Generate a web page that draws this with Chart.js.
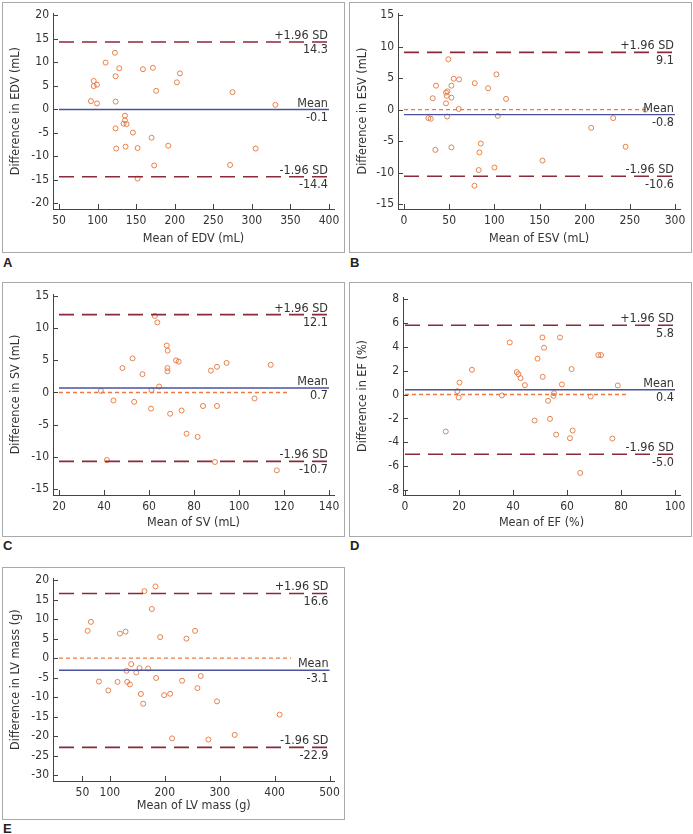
<!DOCTYPE html>
<html>
<head>
<meta charset="utf-8">
<script src="https://cdn.jsdelivr.net/npm/chart.js@4.4.1/dist/chart.umd.min.js"></script>
<style>
  body { margin: 0; background: #fff; width: 693px; height: 834px; position: relative; overflow: hidden; }
  .box { position: absolute; border: 1px solid #a9a9a9; box-sizing: border-box; }
  canvas { position: absolute; }
  .tag { position: absolute; font: bold 13px 'Liberation Sans Narrow', 'Liberation Sans', sans-serif; color: #222; }
</style>
</head>
<body>

<script>
// ---- data ----
var edvMean = [91.4, 95, 95, 99.2, 99.2, 110.4, 122.5, 123.4, 123.4, 128.1, 123.4, 124.2, 135.5, 135.5, 133.7, 137.6, 136.3, 145.8, 151.9, 151.9, 158.8, 171.7, 170, 173.4, 176, 191.6, 202.8, 206.7, 274.9, 271.8, 305, 330.5];
var edvDiff = [1.7, 6.0, 4.9, 5.2, 1.2, 9.9, 12.0, 7.0, 1.6, 8.7, -4.1, -8.4, -1.4, -2.4, -3.1, -3.2, -8.0, -5.0, -8.3, -14.8, 8.5, 8.8, -6.1, -12.0, 3.9, -7.8, 5.7, 7.6, 3.6, -11.9, -8.4, 0.9];

var esvMean = [27.0, 29.6, 31.8, 35.5, 34.7, 46.5, 48, 47.3, 46.5, 47.7, 49.1, 52.5, 52.5, 52.5, 55, 61, 60.6, 78.3, 78, 82.7, 83.5, 85, 93.1, 100.1, 102.3, 103.8, 113, 153.3, 207.2, 231.6, 245.3, 267.1];
var esvDiff = [-1.35, -1.45, 1.8, 3.8, -6.4, 2.7, 2.9, 2.2, 1.0, -1.1, 8.0, 3.8, 1.9, -6.0, 4.9, 4.8, 0.1, 4.2, -12.1, -9.6, -6.8, -5.4, 3.4, -9.2, 5.6, -1.0, 1.7, -8.1, -2.9, -1.35, -5.9, 0.0];

var svMean = [38.6, 41.3, 44.2, 48.2, 52.7, 53.4, 57.1, 60.9, 61.1, 62.6, 63.7, 64.5, 67.9, 68.3, 68.2, 68.2, 69.4, 72, 73.2, 74.5, 76.7, 81.6, 84, 87.5, 89.3, 90.2, 90.2, 94.5, 106.9, 114.1, 116.8];
var svDiff = [0.26, -10.5, -1.24, 3.8, 5.3, -1.45, 2.85, -2.5, 0.36, 11.9, 10.9, 0.93, 7.3, 6.5, 3.8, 3.3, -3.3, 5.0, 4.8, -2.8, -6.4, -6.9, -2.1, 3.4, -10.8, 4.0, -2.1, 4.6, -0.93, 4.3, -12.1];

var efMean = [15.1, 19.4, 19.9, 20.2, 24.8, 35.9, 38.8, 41.4, 42, 42.8, 44.4, 48, 49.1, 50.9, 51, 51.5, 53, 53.7, 55.2, 55, 56, 57.4, 58.1, 61.1, 61.7, 62.1, 64.9, 68.8, 71.6, 72.6, 76.8, 78.8];
var efDiff = [-3.1, 0.28, -0.25, 1.0, 2.07, -0.08, 4.36, 1.87, 1.7, 1.37, 0.78, -2.18, 3.0, 4.78, 1.48, 3.92, -0.53, -2.04, 0.11, -0.11, -3.36, 4.78, 0.84, -3.66, 2.13, -3.02, -6.57, -0.17, 3.3, 3.3, -3.69, 0.76];

var lvMean = [59.4, 65.5, 80, 97, 113.9, 118.2, 128.5, 130.3, 131.5, 136.4, 138.8, 147.9, 153.9, 156.4, 160.6, 163, 169.7, 176.4, 183, 184.2, 191.5, 198.8, 209.7, 213.3, 231.5, 239.4, 255.1, 259.4, 265.5, 279.4, 295.1, 327.3, 409.1];
var lvDiff = [7.0, 9.3, -6.0, -8.3, -6.1, 6.3, 6.8, -3.25, -6.1, -6.75, -1.54, -3.7, -2.56, -9.2, -11.7, 17.2, -2.65, 12.6, 18.4, -5.1, 5.4, -9.5, -9.15, -20.6, -5.8, 5.0, 7.0, -7.7, -4.6, -20.9, -11.1, -19.7, -14.5];

// bias and limits of agreement: [+1.96 SD, mean, -1.96 SD]
var edvLimits = [14.3, -0.1, -14.4];
var esvLimits = [9.1, -0.8, -10.6];
var svLimits = [12.1, 0.7, -10.7];
var efLimits = [5.8, 0.4, -5.0];
var lvLimits = [16.6, -3.1, -22.9];

// tick labels
var edvXTicks = [50, 100, 150, 200, 250, 300, 350, 400];
var edvYTicks = [-20, -15, -10, -5, 0, 5, 10, 15, 20];
var esvXTicks = [0, 50, 100, 150, 200, 250, 300];
var esvYTicks = [-15, -10, -5, 0, 5, 10, 15];
var svXTicks = [20, 40, 60, 80, 100, 120, 140];
var svYTicks = [-15, -10, -5, 0, 5, 10, 15];
var efXTicks = [0, 20, 40, 60, 80, 100];
var efYTicks = [-8, -6, -4, -2, 0, 2, 4, 6, 8];
var lvXTicks = [50, 100, 200, 300, 400, 500];
var lvYTicks = [-30, -25, -20, -15, -10, -5, 0, 5, 10, 15, 20];

var FONT = "'Liberation Sans Narrow', 'DejaVu Sans Condensed', 'Liberation Sans', sans-serif";

// layout of each panel on the page (pixels); xCal = [value, px, value, px] calibrates the x axis
var panels = [
  { tag: 'A', box: [2, 2, 345, 253], x: edvMean, y: edvDiff, lim: edvLimits, xt: edvXTicks, yt: edvYTicks,
    xCal: [50, 59, 400, 329], xPx: [59, 329], yPx: [203, 15], axL: 53, axB: 209, axT: 13, axR: 334, zeroTo: null,
    xTitle: 'Mean of EDV (mL)', yTitle: 'Difference in EDV (mL)', tagTop: 255 },
  { tag: 'B', box: [349, 2, 692, 253], x: esvMean, y: esvDiff, lim: esvLimits, xt: esvXTicks, yt: esvYTicks,
    xCal: [0, 404, 300, 675], xPx: [404, 675], yPx: [204, 15], axL: 398, axB: 209, axT: 13, axR: 680, zeroTo: 270,
    xTitle: 'Mean of ESV (mL)', yTitle: 'Difference in ESV (mL)', tagTop: 255 },
  { tag: 'C', box: [2, 282, 345, 537], x: svMean, y: svDiff, lim: svLimits, xt: svXTicks, yt: svYTicks,
    xCal: [20, 59, 140, 329], xPx: [59, 329], yPx: [489, 296], axL: 53, axB: 495, axT: 294, axR: 334, zeroTo: 122,
    xTitle: 'Mean of SV (mL)', yTitle: 'Difference in SV (mL)', tagTop: 538 },
  { tag: 'D', box: [349, 282, 692, 537], x: efMean, y: efDiff, lim: efLimits, xt: efXTicks, yt: efYTicks,
    xCal: [0, 405, 100, 675], xPx: [405, 675], yPx: [490, 299], axL: 403, axB: 495, axT: 297, axR: 680, zeroTo: 82,
    xTitle: 'Mean of EF (%)', yTitle: 'Difference in EF (%)', tagTop: 538 },
  { tag: 'E', box: [2, 567, 345, 820], x: lvMean, y: lvDiff, lim: lvLimits, xt: lvXTicks, yt: lvYTicks,
    xCal: [100, 110, 500, 330], xPx: [59, 330], yPx: [775, 580], axL: 53, axB: 781, axT: 578, axR: 335, zeroTo: 430,
    xTitle: 'Mean of LV mass (g)', yTitle: 'Difference in LV mass (g)', tagTop: 821 }
];

// inward tick marks and the limit labels
var blandAltman = {
  id: 'blandAltman',
  afterDraw: function (chart) {
    var o = chart.options.plugins.blandAltman;
    var c = chart.ctx, xs = chart.scales.x, ys = chart.scales.y;
    c.save();
    c.strokeStyle = '#444';
    c.lineWidth = 1;
    xs.ticks.forEach(function (t) {
      var px = Math.round(xs.getPixelForValue(t.value)) + 0.5;
      c.beginPath(); c.moveTo(px, ys.bottom); c.lineTo(px, ys.bottom - 5); c.stroke();
    });
    ys.ticks.forEach(function (t) {
      var py = Math.round(ys.getPixelForValue(t.value)) + 0.5;
      c.beginPath(); c.moveTo(xs.left, py); c.lineTo(xs.left + 5, py); c.stroke();
    });
    c.font = '12.5px ' + FONT;
    c.fillStyle = '#333';
    c.textAlign = 'right';
    var xr = xs.getPixelForValue(o.xEnd) - 1;
    var names = ['+1.96 SD', 'Mean', '-1.96 SD'];
    o.lim.forEach(function (v, i) {
      var py = ys.getPixelForValue(v);
      c.textBaseline = 'bottom';
      c.fillText(names[i], xr, py);
      c.textBaseline = 'top';
      c.fillText(v.toFixed(1), xr, py + 2);
    });
    c.restore();
  }
};

panels.forEach(function (p) {
  var w = p.box[2] - p.box[0], h = p.box[3] - p.box[1];
  var b = document.createElement('div');
  b.className = 'box';
  b.style.left = p.box[0] + 'px'; b.style.top = p.box[1] + 'px';
  b.style.width = w + 'px'; b.style.height = h + 'px';
  document.body.appendChild(b);

  var t = document.createElement('div');
  t.className = 'tag';
  t.textContent = p.tag;
  t.style.left = (p.box[0] + 1) + 'px'; t.style.top = p.tagTop + 'px';
  document.body.appendChild(t);

  var cv = document.createElement('canvas');
  cv.width = w; cv.height = h;
  cv.style.left = p.box[0] + 'px'; cv.style.top = p.box[1] + 'px';
  cv.style.width = w + 'px'; cv.style.height = h + 'px';
  document.body.appendChild(cv);

  // pixel <-> value along x from the calibration pair
  var kx = (p.xCal[2] - p.xCal[0]) / (p.xCal[3] - p.xCal[1]);
  var xAt = function (px) { return p.xCal[0] + (px - p.xCal[1]) * kx; };
  var xa = xAt(p.xPx[0]), xb = xAt(p.xPx[1]);
  var y0 = p.yt[0], y1 = p.yt[p.yt.length - 1];
  var ky = (y1 - y0) / (p.yPx[0] - p.yPx[1]);

  var pts = p.x.map(function (v, i) { return { x: v, y: p.y[i] }; });
  var hline = function (v, a, z) { return [{ x: a, y: v }, { x: z, y: v }]; };

  var sets = [];
  if (p.zeroTo !== null) {
    sets.push({ type: 'line', data: hline(0, xa, p.zeroTo), borderColor: '#ee7a3e', borderWidth: 1.3,
      borderDash: [4, 3], pointRadius: 0, fill: false });
  }
  sets.push({ type: 'line', data: hline(p.lim[0], xa, xb), borderColor: '#8a2a38', borderWidth: 1.6,
    borderDash: [15, 8], pointRadius: 0, fill: false });
  sets.push({ type: 'line', data: hline(p.lim[2], xa, xb), borderColor: '#8a2a38', borderWidth: 1.6,
    borderDash: [15, 8], pointRadius: 0, fill: false });
  sets.push({ type: 'line', data: hline(p.lim[1], xa, xb), borderColor: '#4a52a0', borderWidth: 1.4,
    pointRadius: 0, fill: false });
  sets.push({ type: 'scatter', data: pts, pointRadius: 2.5, pointBorderWidth: 1,
    borderColor: '#e8804a', backgroundColor: 'rgba(255,255,255,0)' });

  new Chart(cv, {
    type: 'scatter',
    data: { datasets: sets },
    plugins: [blandAltman],
    options: {
      responsive: false,
      animation: false,
      events: [],
      layout: { padding: { left: 0, top: p.axT - p.box[1], right: p.box[2] - p.axR, bottom: 0 } },
      plugins: {
        legend: { display: false },
        tooltip: { enabled: false },
        blandAltman: { lim: p.lim, xEnd: xb }
      },
      scales: {
        x: {
          type: 'linear',
          min: xAt(p.axL),
          max: xAt(p.axR),
          afterBuildTicks: function (s) { s.ticks = p.xt.map(function (v) { return { value: v }; }); },
          afterFit: function (s) { s.height = p.box[3] - p.axB; },
          grid: { display: true, drawOnChartArea: false, drawTicks: false },
          border: { display: true, color: '#444', width: 1 },
          ticks: { padding: 5, color: '#333', font: { family: FONT, size: 12 }, maxRotation: 0, autoSkip: false },
          title: { display: true, text: p.xTitle, color: '#333', padding: { top: 0, bottom: 7 },
            font: { family: FONT, size: 12.5 } }
        },
        y: {
          type: 'linear',
          min: y0 - (p.axB - p.yPx[0]) * ky,
          max: y1 + (p.yPx[1] - p.axT) * ky,
          afterBuildTicks: function (s) { s.ticks = p.yt.map(function (v) { return { value: v }; }); },
          afterFit: function (s) { s.width = p.axL - p.box[0]; },
          grid: { display: true, drawOnChartArea: false, drawTicks: false },
          border: { display: true, color: '#444', width: 1 },
          ticks: { padding: 4, color: '#333', font: { family: FONT, size: 12 }, autoSkip: false },
          title: { display: true, text: p.yTitle, color: '#333', padding: { top: 6, bottom: 0 },
            font: { family: FONT, size: 12.5 } }
        }
      }
    }
  });
});
</script>
</body>
</html>
